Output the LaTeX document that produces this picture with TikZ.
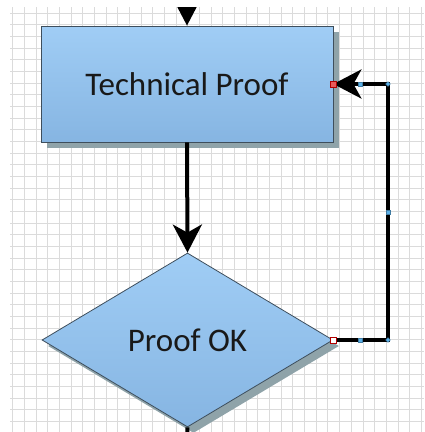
\documentclass[tikz,border=0pt]{standalone}
\usepackage{fontspec}
\setmainfont{Carlito}
\usetikzlibrary{arrows.meta,shapes.geometric,shadows}
\definecolor{boxtop}{HTML}{A0CDF5}
\definecolor{boxbottom}{HTML}{86B5E2}
\definecolor{boxedge}{HTML}{3E4E5C}
\definecolor{shadowgray}{HTML}{8FA3A9}
\definecolor{handleblue}{HTML}{5BB0E8}
\definecolor{handlered}{HTML}{E85A5A}
\begin{document}
\begin{tikzpicture}[x=1pt, y=-1pt,
    gridline/.style={line width=0.6pt, gray!28},
    stepbox/.style={draw=boxedge, line width=0.8pt, top color=boxtop, bottom color=boxbottom,
        inner sep=0pt, text=black!90, font=\fontsize{33}{39}\selectfont,
        drop shadow={shadow xshift=6pt, shadow yshift=-6pt, fill=shadowgray, opacity=1}},
    flow/.style={line width=4pt, -{Stealth[length=28pt, width=29pt, inset=8pt]}},
    handle/.style={draw=handleblue!70!black, line width=0.4pt, fill=handleblue,
        minimum size=4pt, inner sep=0pt},
    corner/.style={handle, diamond, minimum size=5pt},
    pin/.style={draw=red!70!black, line width=0.6pt, minimum size=6pt, inner sep=0pt}]
    \useasboundingbox (0,0) rectangle (424,432);
    \clip (10,7) rectangle (424,432);
    % background grid
    \foreach \i in {0,...,35}
        \draw[gridline] ({12.7+\i*11.67},7) -- ({12.7+\i*11.67},432);
    \foreach \j in {0,...,36}
        \draw[gridline] (10,{13+\j*11.67}) -- (424,{13+\j*11.67});
    % shapes
    \node[stepbox, rectangle, minimum width=292pt, minimum height=116pt] (proof) at (187,84) {Technical Proof};
    \node[stepbox, diamond, minimum width=291pt, minimum height=174pt] (check) at (187.5,340) {Proof OK};
    % connectors
    \coordinate (in) at (187,-12);
    \coordinate (out) at (187,445);
    \coordinate (turn) at (388,340);
    \draw[flow] (in) -- (proof.north);
    \draw[flow] (proof.south) -- (check.north);
    \draw[line width=4pt] (check.south) -- (out);
    \draw[flow] (check.east) -- (turn) |- (proof.east);
    % selection handles
    \node[pin, fill=handlered] (pa) at (proof.east) {};
    \node[pin, fill=white] (pb) at (check.east) {};
    \node[handle] (h1) at (360,84) {};
    \node[handle] (h2) at (388,212) {};
    \node[handle] (h3) at (360,340) {};
    \node[corner] (c1) at (388,84) {};
    \node[corner] (c2) at (turn) {};
\end{tikzpicture}
\end{document}
